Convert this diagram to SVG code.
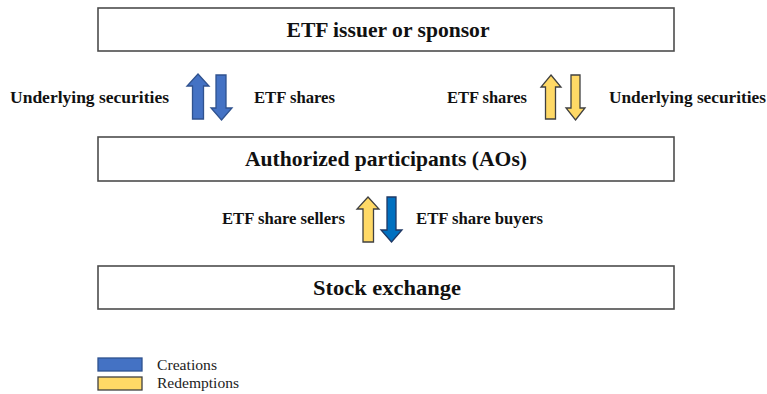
<svg xmlns="http://www.w3.org/2000/svg" width="767" height="394" viewBox="0 0 767 394">
<style>
.box{fill:#fff;stroke:#4d4d4d;stroke-width:1.6}
.title{font-family:"Liberation Serif",serif;font-weight:bold;font-size:21px;fill:#111;text-anchor:middle}
.lbl{font-family:"Liberation Serif",serif;font-weight:bold;font-size:16px;fill:#111}
.leg{font-family:"Liberation Serif",serif;font-size:14.5px;fill:#222}
.blue{fill:#4472C4;stroke:#2F528F;stroke-width:1.3}
.blue2{fill:#0070C0;stroke:#1F3864;stroke-width:1.3}
.yel{fill:#FFD966;stroke:#404040;stroke-width:1.3}
</style>
<rect width="767" height="394" fill="#fff"/>
<g id="issuer">
<rect class="box" x="98" y="8" width="576" height="43"/>
<text class="title" x="388" y="37" textLength="203" lengthAdjust="spacingAndGlyphs">ETF issuer or sponsor</text>
</g>
<g id="aps">
<rect class="box" x="98" y="137" width="576" height="44"/>
<text class="title" x="386" y="166" textLength="282" lengthAdjust="spacingAndGlyphs">Authorized participants (AOs)</text>
</g>
<g id="exchange">
<rect class="box" x="98" y="266" width="576" height="43"/>
<text class="title" x="387" y="295" textLength="148" lengthAdjust="spacingAndGlyphs">Stock exchange</text>
</g>
<g id="connectors">
<path class="blue" d="M198,74 L209,86 L203.5,86 L203.5,119 L192.5,119 L192.5,86 L187,86 Z"/>
<path class="blue" d="M221.5,120 L232,108 L226,108 L226,75 L216,75 L216,108 L211,108 Z"/>
<path class="yel" d="M551,75 L561,87 L555.5,87 L555.5,119 L545.5,119 L545.5,87 L541,87 Z"/>
<path class="yel" d="M575.5,120 L585,108 L580,108 L580,75 L571,75 L571,108 L566,108 Z"/>
<path class="yel" d="M368,197 L379,209 L373.5,209 L373.5,242 L363,242 L363,209 L357,209 Z"/>
<path class="blue2" d="M391.5,242 L402,230 L396,230 L396,197 L387,197 L387,230 L381,230 Z"/>
<text class="lbl" x="10" y="103" textLength="159" lengthAdjust="spacingAndGlyphs">Underlying securities</text>
<text class="lbl" x="254" y="103" textLength="81" lengthAdjust="spacingAndGlyphs">ETF shares</text>
<text class="lbl" x="447" y="103" textLength="80" lengthAdjust="spacingAndGlyphs">ETF shares</text>
<text class="lbl" x="609" y="103" textLength="157" lengthAdjust="spacingAndGlyphs">Underlying securities</text>
<text class="lbl" x="222" y="224" textLength="123" lengthAdjust="spacingAndGlyphs">ETF share sellers</text>
<text class="lbl" x="416" y="224" textLength="127" lengthAdjust="spacingAndGlyphs">ETF share buyers</text>
</g>
<g id="legend">
<rect class="blue" x="98" y="358" width="44" height="13"/>
<rect class="yel" x="98" y="377" width="44" height="13"/>
<text class="leg" x="157" y="370" textLength="60" lengthAdjust="spacingAndGlyphs">Creations</text>
<text class="leg" x="157" y="388" textLength="82" lengthAdjust="spacingAndGlyphs">Redemptions</text>
</g>
</svg>
